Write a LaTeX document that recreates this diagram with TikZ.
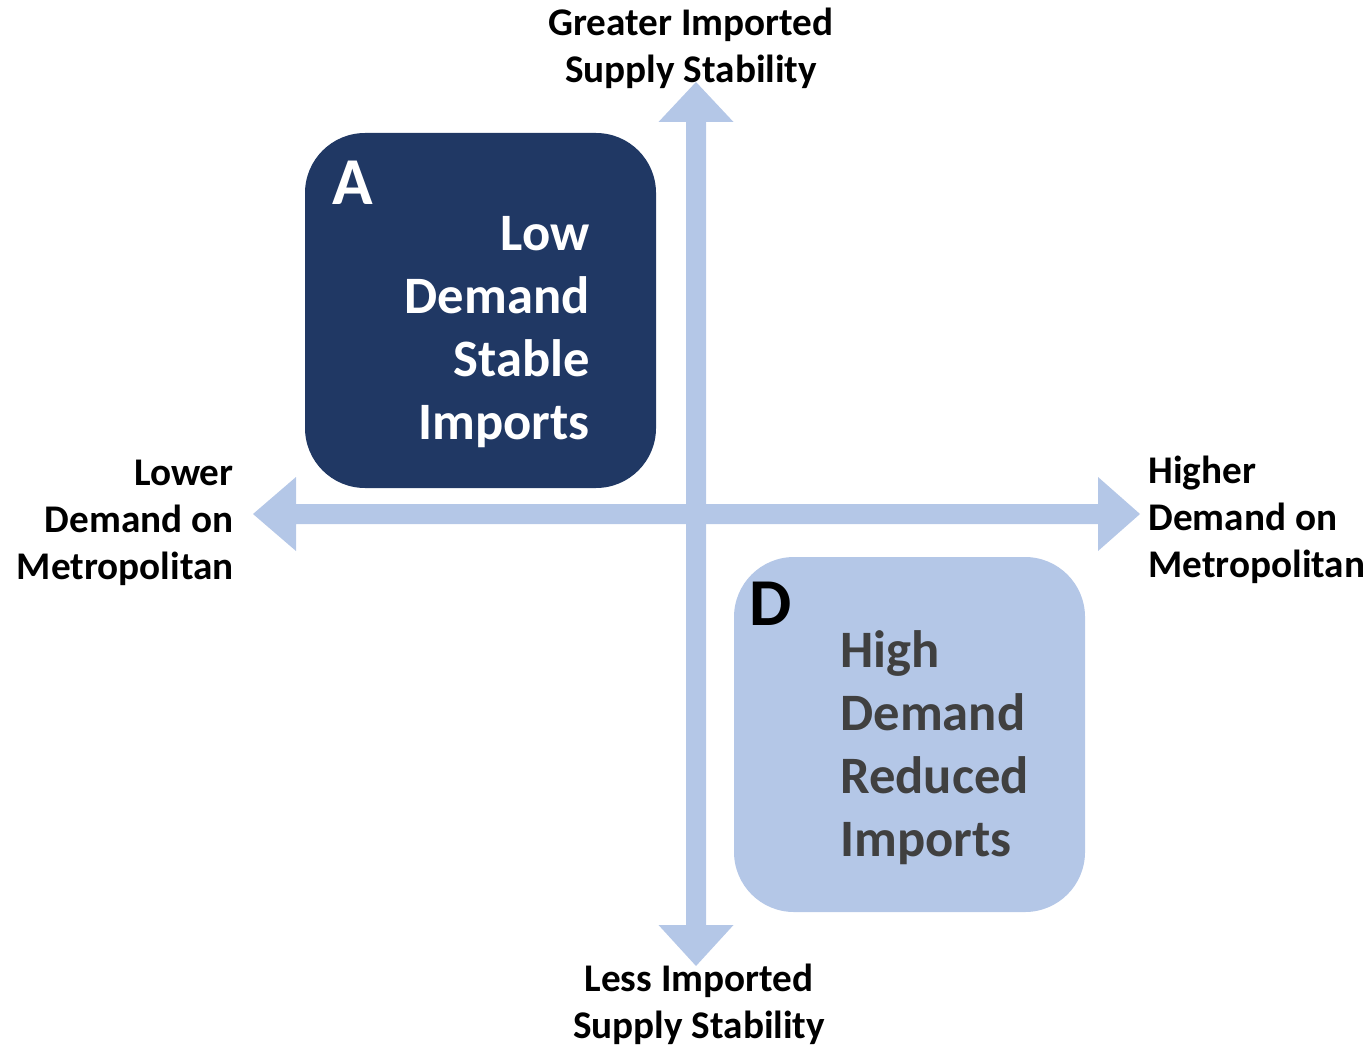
\documentclass[tikz,border=0pt]{standalone}
\usepackage{fontspec}
\setmainfont{Carlito}
\definecolor{navy}{HTML}{203864}
\definecolor{pale}{HTML}{B4C7E7}
\definecolor{ink}{HTML}{404040}
\begin{document}
\begin{tikzpicture}[x=0.5pt,y=-0.5pt,
  axislabel/.style={font=\bfseries\fontsize{19.6}{23.5}\selectfont, inner sep=0pt, text=black},
  quadbox/.style={minimum width=175.5pt, minimum height=177.5pt, rounded corners=30pt, inner sep=0pt},
  quadtext/.style={font=\bfseries\fontsize{26.3}{31.5}\selectfont, inner sep=0pt},
  quadletter/.style={font=\bfseries\fontsize{33.5}{33.5}\selectfont, inner sep=0pt}]
\useasboundingbox (0,0) rectangle (1368,1048);

% double-headed axis arrows
\coordinate (top) at (696,82);
\coordinate (bottom) at (696,966);
\coordinate (left) at (253,514);
\coordinate (right) at (1140,514);
\fill[pale] (top) -- (733.5,122) -- (706,122) -- (706,925) -- (733.5,925) -- (bottom)
  -- (658.5,925) -- (686,925) -- (686,122) -- (658.5,122) -- cycle;
\fill[pale] (left) -- (296,477) -- (296,504) -- (1098,504) -- (1098,477) -- (right)
  -- (1098,551) -- (1098,524) -- (296,524) -- (296,551) -- cycle;

% quadrant boxes (multi-line nodes are placed by the baseline of their last line)
\node[quadbox, fill=navy] (boxA) at (480.5,310.5) {};
\node[quadletter, text=white, anchor=base west] (letA) at (332,205) {A};
\node[quadtext, text=white, align=right, anchor=base east] (txtA) at (590,439)
  {Low\\Demand\\Stable\\Imports};

\node[quadbox, fill=pale] (boxD) at (909.5,734.5) {};
\node[quadletter, text=black, anchor=base west] (letD) at (749,625) {D};
\node[quadtext, text=ink, align=left, anchor=base west] (txtD) at (840,856)
  {High\\Demand\\Reduced\\Imports};

% axis labels
\node[axislabel, align=center, anchor=base] (lblTop) at (691,83)
  {Greater Imported\\Supply Stability};
\node[axislabel, align=center, anchor=base] (lblBottom) at (699,1038)
  {Less Imported\\Supply Stability};
\node[axislabel, align=right, anchor=base east] (lblLeft) at (234,579)
  {Lower\\Demand on\\Metropolitan};
\node[axislabel, align=left, anchor=base west] (lblRight) at (1148,577)
  {Higher\\Demand on\\Metropolitan};
\end{tikzpicture}
\end{document}
